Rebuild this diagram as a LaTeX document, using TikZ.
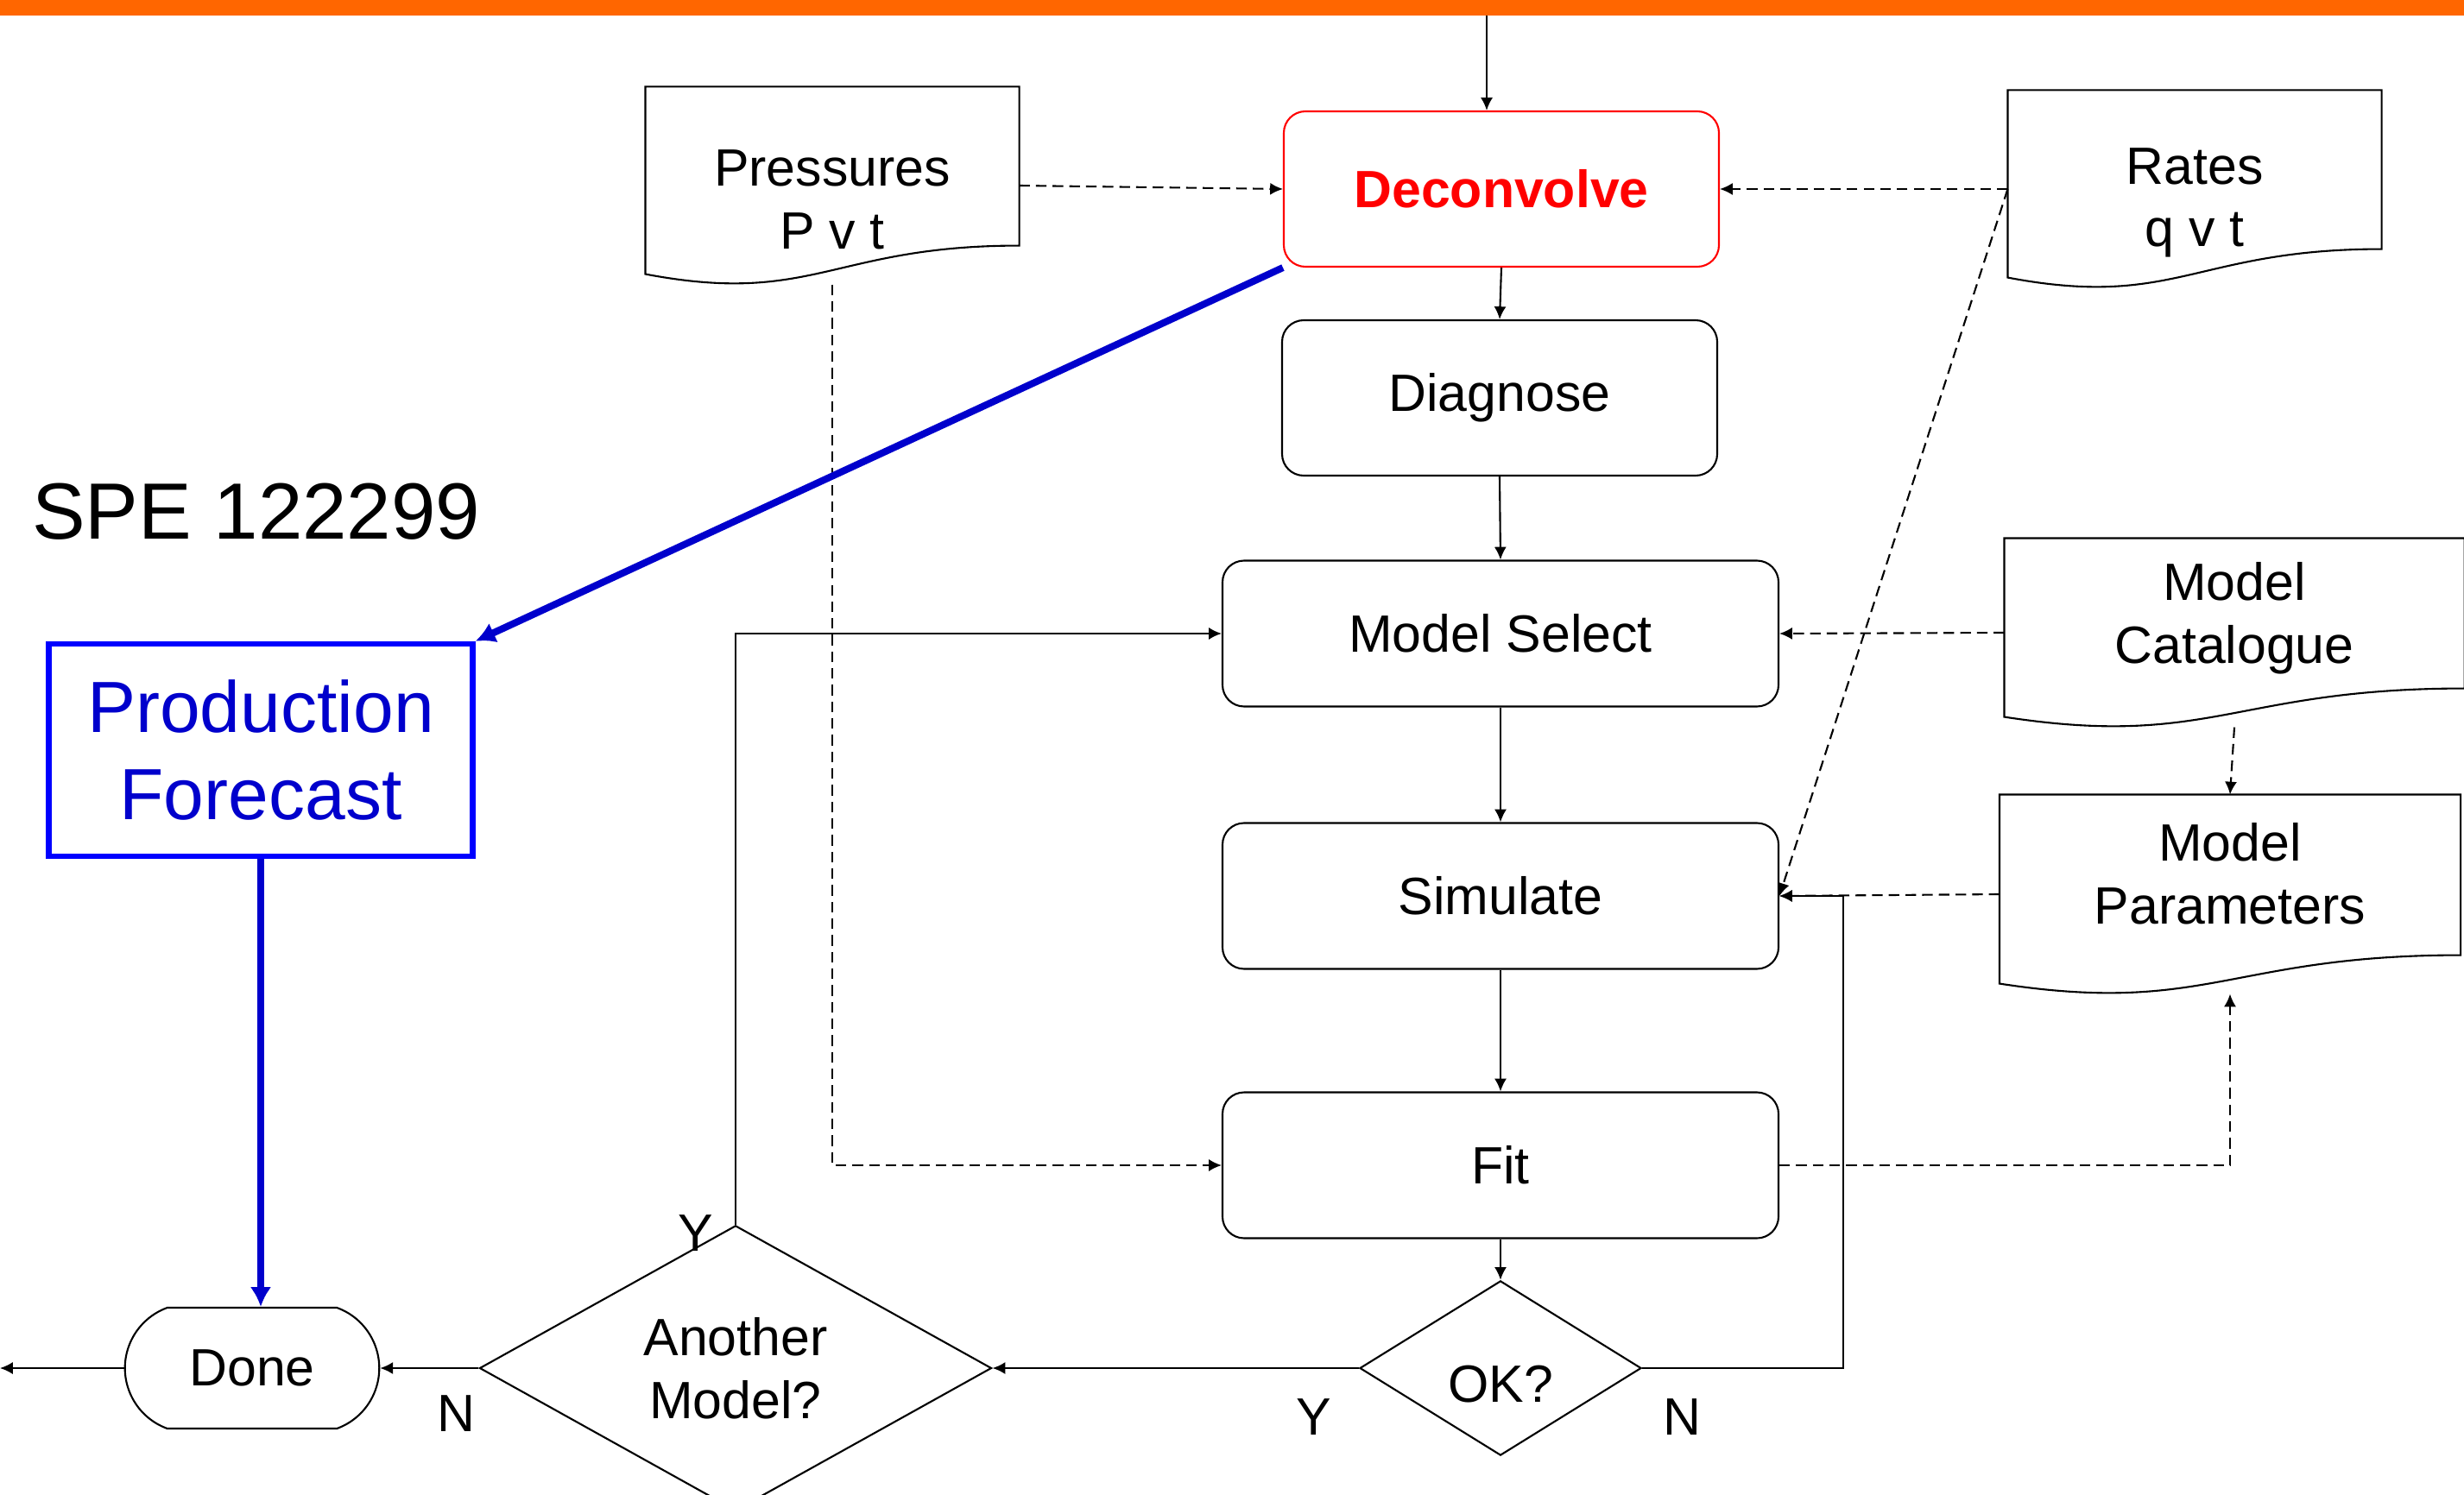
\documentclass[tikz,border=0pt]{standalone}
\usepackage{fontspec}
\setmainfont{Liberation Sans}
\usetikzlibrary{arrows.meta,shapes.geometric,shapes.misc,calc}

\definecolor{barorange}{RGB}{255,102,0}
\definecolor{fcblue}{RGB}{0,0,204}
\definecolor{fcborder}{RGB}{0,0,255}

% outline of a data sheet with a wavy lower edge
\newcommand{\docwave}[1]{%
  \draw (#1.north west) -- (#1.north east) -- ([yshift=0.45cm]#1.south east)
    .. controls ($(#1.south west)!0.5!(#1.south east)+(0,0.45)$)
           and ($(#1.south west)!0.45!(#1.south east)+(0,-0.25)$)
    .. ([yshift=0.12cm]#1.south west) -- cycle;}

\begin{document}
\begin{tikzpicture}[>={Latex[length=4.2pt,width=4pt]}, line width=0.6pt,
  every node/.style={font=\fontsize{17.3}{20.7}\selectfont, align=center},
  proc/.style={draw, rounded corners=0.25cm, minimum width=6.44cm, minimum height=1.69cm},
  doc/.style={inner sep=0pt, minimum width=4.31cm, minimum height=2.27cm},
  decision/.style={draw, diamond, inner sep=0pt},
  terminal/.style={draw, rounded rectangle, rounded rectangle arc length=140,
    minimum width=3.18cm, minimum height=1.40cm},
  dataflow/.style={->, dash pattern=on 3.5pt off 2pt},
  yn/.style={inner sep=0pt},
  bigflow/.style={line width=2.3pt, fcblue, -{Latex[length=6.5pt,width=7pt]}}]

  \useasboundingbox (0,0) rectangle (28.54,-17.32);
  \fill[barorange] (0,0) rectangle (28.54,-0.18);

  % main chain
  \node[proc, draw=red, text=red, font=\fontsize{17.3}{20.7}\selectfont\bfseries,
    minimum width=5.04cm, minimum height=1.80cm] (deconv) at (17.39,-2.19) {Deconvolve};
  \node[proc, minimum width=5.04cm, minimum height=1.80cm] (diag) at (17.37,-4.61) {Diagnose};
  \node[proc] (msel) at (17.38,-7.34) {Model Select};
  \node[proc] (sim) at (17.38,-10.38) {Simulate};
  \node[proc] (fit) at (17.38,-13.50) {Fit};
  \node[decision, minimum width=3.26cm, minimum height=1.98cm, text height=0.8cm] (ok) at (17.38,-15.85) {OK?};
  \node[decision, minimum width=5.93cm, minimum height=2.95cm] (another) at (8.52,-15.85) {Another\\Model?};
  \node[terminal] (done) at (2.92,-15.85) {Done};

  % data sheets
  \node[doc, label={[yshift=-0.16cm]center:{Pressures\\P v t}}] (pres) at (9.64,-2.15) {};
  \node[doc, label={[yshift=-0.16cm]center:{Rates\\q v t}}] (rates) at (25.42,-2.19) {};
  \node[doc, minimum width=5.31cm, minimum height=2.17cm,
    label={[yshift=0.17cm]center:{Model\\Catalogue}}] (cat) at (25.88,-7.33) {};
  \node[doc, minimum width=5.32cm, minimum height=2.29cm,
    label={[yshift=0.24cm]center:{Model\\Parameters}}] (par) at (25.83,-10.36) {};
  \docwave{pres}
  \docwave{rates}
  \docwave{cat}
  \docwave{par}

  \node[anchor=west, inner sep=0pt, font=\fontsize{26.3}{31}\selectfont] (spe) at (0.36,-5.93) {SPE 122299};
  \node[draw=fcborder, line width=1.8pt, text=fcblue, font=\fontsize{23.9}{28.7}\selectfont,
    minimum width=4.91cm, minimum height=2.46cm] (forecast) at (3.02,-8.69) {Production\\Forecast};

  \node[yn] (yanother) at (8.06,-14.29) {Y};
  \node[yn] (nanother) at (5.28,-16.38) {N};
  \node[yn] (yok) at (15.22,-16.42) {Y};
  \node[yn] (nok) at (19.48,-16.42) {N};

  \coordinate (start) at (17.22,-0.18);
  \coordinate (exit) at (0,-15.85);
  \coordinate (loop) at (21.35,-10.38);

  % solid flow
  \draw[->] (start) -- (start |- deconv.north);
  \draw[->] (deconv.south) -- (diag.north);
  \draw[->] (diag.south) -- (msel.north);
  \draw[->] (msel.south) -- (sim.north);
  \draw[->] (sim.south) -- (fit.north);
  \draw[->] (fit.south) -- (ok.north);
  \draw[->] (ok.west) -- (another.east);
  \draw[->] (another.west) -- (done.east);
  \draw[->] (done.west) -- (exit);
  \draw[->] (another.north) |- (msel.west);

  % data
  \draw[dataflow] (pres.east) -- (deconv.west);
  \draw[dataflow] (rates.west) -- (deconv.east);
  \draw[dataflow] (rates.west) -- (sim.east);
  \draw[dataflow] (pres.south) |- (fit.west);
  \draw[dataflow] (cat.west) -- (msel.east);
  \draw[dataflow] (cat.south) -- (par.north);
  \draw[dataflow] (par.west) -- (sim.east);
  \draw[dataflow] (fit.east) -| (par.south);

  \draw[->] (ok.east) -| (loop) -- (sim.east);

  % forecast path
  \draw[bigflow] (deconv.south west) -- (forecast.north east);
  \draw[bigflow] (forecast.south) -- (forecast.south |- done.north);
\end{tikzpicture}
\end{document}
